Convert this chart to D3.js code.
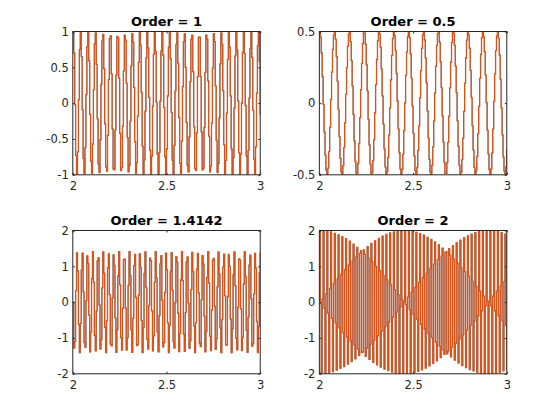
<!DOCTYPE html>
<html>
<head>
<meta charset="utf-8">
<script src="https://cdn.jsdelivr.net/npm/d3@7"></script>
<style>
body { margin: 0; background: #fff; }
text { font-family: "DejaVu Sans", sans-serif; }
.axis text { font-size: 11.5px; fill: #262626; }
.axis line { stroke: #262626; }
.title { font-size: 13px; font-weight: bold; fill: #000; }
</style>
</head>
<body>
<script>
// sample grid: t = 2 .. 3
var t0 = 2, dt = 0.005
var xTicks = [2, 2.5, 3]
var orders = ["1", "0.5", "1.4142", "2"]

var ord1 = [1.00, 0.70, -0.02, -0.73, -1.00, -0.68, 0.05, 0.75, 1.00, 0.65,
  -0.09, -0.77, -0.99, -0.62, 0.12, 0.79, 0.99, 0.59, -0.16, -0.81,
  -0.98, -0.57, 0.19, 0.83, 0.98, 0.54, -0.22, -0.85, -0.97, -0.51,
  0.26, 0.87, 0.96, 0.48, -0.29, -0.89, -0.95, -0.45, 0.33, 0.90,
  0.94, 0.41, -0.36, -0.92, -0.93, -0.38, 0.39, 0.93, 0.91, 0.35,
  -0.42, -0.94, -0.90, -0.32, 0.45, 0.95, 0.88, 0.28, -0.48, -0.96,
  -0.87, -0.25, 0.52, 0.97, 0.85, 0.22, -0.54, -0.98, -0.83, -0.18,
  0.57, 0.99, 0.81, 0.15, -0.60, -0.99, -0.79, -0.11, 0.63, 1.00,
  0.77, 0.08, -0.66, -1.00, -0.74, -0.04, 0.68, 1.00, 0.72, 0.01,
  -0.71, -1.00, -0.69, 0.03, 0.73, 1.00, 0.67, -0.06, -0.75, -1.00,
  -0.64, 0.10, 0.78, 0.99, 0.62, -0.13, -0.80, -0.99, -0.59, 0.17,
  0.82, 0.98, 0.56, -0.20, -0.84, -0.98, -0.53, 0.23, 0.86, 0.97,
  0.50, -0.27, -0.87, -0.96, -0.47, 0.30, 0.89, 0.95, 0.44, -0.33,
  -0.91, -0.94, -0.41, 0.37, 0.92, 0.92, 0.37, -0.40, -0.93, -0.91,
  -0.34, 0.43, 0.95, 0.89, 0.31, -0.46, -0.96, -0.88, -0.28, 0.49,
  0.97, 0.86, 0.24, -0.52, -0.97, -0.84, -0.21, 0.55, 0.98, 0.82,
  0.17, -0.58, -0.99, -0.80, -0.14, 0.61, 0.99, 0.78, 0.10, -0.64,
  -1.00, -0.76, -0.07, 0.66, 1.00, 0.74, 0.03, -0.69, -1.00, -0.71,
  0.00, 0.71, 1.00, 0.69, -0.03, -0.74, -1.00, -0.66, 0.07, 0.76,
  1.00, 0.64, -0.10, -0.78, -0.99, -0.61, 0.14, 0.80, 0.99, 0.58, -0.17]

var ord05 = [0.5, 0.461, 0.350, 0.185, -0.009, -0.201, -0.363, -0.468, -0.500, -0.454,
  -0.338, -0.169, 0.026, 0.217, 0.375, 0.473, 0.499, 0.447, 0.325, 0.152,
  -0.044, -0.233, -0.386, -0.479, -0.497, -0.438, -0.311, -0.136, 0.061, 0.248,
  0.397, 0.484, 0.495, 0.430, 0.297, 0.119, -0.078, -0.263, -0.407, -0.488,
  -0.492, -0.421, -0.283, -0.102, 0.095, 0.278, 0.417, 0.491, 0.489, 0.411,
  0.269, 0.085, -0.113, -0.292, -0.426, -0.494, -0.485, -0.401, -0.254, -0.067,
  0.129, 0.306, 0.435, 0.497, 0.481, 0.390, 0.239, 0.050, -0.146, -0.320,
  -0.444, -0.498, -0.476, -0.379, -0.223, -0.033, 0.163, 0.333, 0.451, 0.499,
  0.470, 0.367, 0.207, 0.015, -0.179, -0.346, -0.459, -0.500, -0.464, -0.355,
  -0.191, 0.002, 0.195, 0.358, 0.465, 0.500, 0.457, 0.343, 0.175, -0.020,
  -0.211, -0.370, -0.471, -0.499, -0.449, -0.330, -0.159, 0.037, 0.227, 0.382,
  0.477, 0.498, 0.441, 0.316, 0.142, -0.054, -0.242, -0.393, -0.482, -0.496,
  -0.433, -0.303, -0.125, 0.072, 0.258, 0.403, 0.486, 0.493, 0.424, 0.289,
  0.108, -0.089, -0.272, -0.413, -0.490, -0.490, -0.415, -0.274, -0.091, 0.106,
  0.287, 0.423, 0.493, 0.487, 0.405, 0.259, 0.074, -0.123, -0.301, -0.432,
  -0.496, -0.482, -0.394, -0.244, -0.057, 0.140, 0.315, 0.440, 0.498, 0.478,
  0.383, 0.229, 0.039, -0.157, -0.328, -0.448, -0.499, -0.472, -0.372, -0.213,
  -0.022, 0.173, 0.341, 0.456, 0.500, 0.466, 0.360, 0.197, 0.004, -0.189,
  -0.354, -0.463, -0.500, -0.459, -0.347, -0.181, 0.013, 0.205, 0.366, 0.469,
  0.500, 0.452, 0.335, 0.165, -0.031, -0.221, -0.377, -0.475, -0.498, -0.444, -0.321]

var ord14 = [0.00, -1.28, -1.10, 0.32, 1.38, 0.87, -0.63, -1.41, -0.59, 0.90,
  1.37, 0.28, -1.13, -1.26, 0.04, 1.29, 1.08, -0.36, -1.39, -0.84,
  0.66, 1.41, 0.56, -0.93, -1.36, -0.25, 1.15, 1.24, -0.08, -1.31,
  -1.05, 0.40, 1.40, 0.81, -0.70, -1.41, -0.52, 0.96, 1.35, 0.21,
  -1.17, -1.22, 0.12, 1.32, 1.02, -0.44, -1.40, -0.77, 0.73, 1.41,
  0.48, -0.99, -1.34, -0.17, 1.19, 1.20, -0.16, -1.34, -1.00, 0.47,
  1.41, 0.74, -0.77, -1.40, -0.45, 1.02, 1.33, 0.13, -1.21, -1.18,
  0.20, 1.35, 0.97, -0.51, -1.41, -0.71, 0.80, 1.40, 0.41, -1.04,
  -1.31, -0.09, 1.23, 1.16, -0.24, -1.36, -0.94, 0.55, 1.41, 0.67,
  -0.83, -1.39, -0.37, 1.07, 1.30, 0.05, -1.25, -1.13, 0.27, 1.37,
  0.91, -0.58, -1.41, -0.64, 0.86, 1.38, 0.33, -1.10, -1.28, -0.01,
  1.27, 1.11, -0.31, -1.38, -0.88, 0.62, 1.41, 0.60, -0.89, -1.37,
  -0.29, 1.12, 1.26, -0.03, -1.29, -1.08, 0.35, 1.39, 0.85, -0.66,
  -1.41, -0.57, 0.92, 1.36, 0.26, -1.14, -1.24, 0.07, 1.30, 1.06,
  -0.39, -1.39, -0.82, 0.69, 1.41, 0.53, -0.95, -1.35, -0.22, 1.17,
  1.22, -0.11, -1.32, -1.03, 0.43, 1.40, 0.78, -0.72, -1.41, -0.49,
  0.98, 1.34, 0.18, -1.19, -1.20, 0.15, 1.33, 1.00, -0.47, -1.41,
  -0.75, 0.76, 1.40, 0.46, -1.01, -1.33, -0.14, 1.21, 1.18, -0.19,
  -1.35, -0.98, 0.50, 1.41, 0.72, -0.79, -1.40, -0.42, 1.04, 1.31,
  0.10, -1.23, -1.16, 0.23, 1.36, 0.95, -0.54, -1.41, -0.68, 0.82, 1.39]

var ord2 = [2.00, -0.03, -2.00, 0.10, 2.00, -0.17, -1.99, 0.24, 1.98, -0.31,
  -1.97, 0.38, 1.96, -0.45, -1.94, 0.52, 1.92, -0.58, -1.90, 0.65,
  1.88, -0.72, -1.85, 0.78, 1.83, -0.85, -1.80, 0.91, 1.77, -0.97,
  -1.73, 1.03, 1.70, -1.09, -1.66, 1.15, 1.62, -1.20, -1.58, 1.26,
  1.53, -1.31, -1.49, 1.36, 1.44, -1.41, -1.39, 1.46, 1.34, -1.51,
  -1.29, 1.55, 1.23, -1.60, -1.18, 1.64, 1.12, -1.68, -1.06, 1.71,
  1.00, -1.75, -0.94, 1.78, 0.88, -1.81, -0.81, 1.84, 0.75, -1.87,
  -0.68, 1.89, 0.62, -1.91, -0.55, 1.93, 0.48, -1.95, -0.42, 1.96,
  0.35, -1.98, -0.28, 1.99, 0.21, -1.99, -0.14, 2.00, 0.07, -2.00,
  0.00, 2.00, -0.07, -2.00, 0.14, 1.99, -0.21, -1.99, 0.28, 1.98,
  -0.35, -1.96, 0.42, 1.95, -0.48, -1.93, 0.55, 1.91, -0.62, -1.89,
  0.68, 1.87, -0.75, -1.84, 0.81, 1.81, -0.88, -1.78, 0.94, 1.75,
  -1.00, -1.71, 1.06, 1.68, -1.12, -1.64, 1.18, 1.60, -1.23, -1.55,
  1.29, 1.51, -1.34, -1.46, 1.39, 1.41, -1.44, -1.36, 1.49, 1.31,
  -1.53, -1.26, 1.58, 1.20, -1.62, -1.15, 1.66, 1.09, -1.70, -1.03,
  1.73, 0.97, -1.77, -0.91, 1.80, 0.85, -1.83, -0.78, 1.85, 0.72,
  -1.88, -0.65, 1.90, 0.58, -1.92, -0.52, 1.94, 0.45, -1.96, -0.38,
  1.97, 0.31, -1.98, -0.24, 1.99, 0.17, -2.00, -0.10, 2.00, 0.03,
  -2.00, 0.03, 2.00, -0.10, -2.00, 0.17, 1.99, -0.24, -1.98, 0.31,
  1.97, -0.38, -1.96, 0.45, 1.94, -0.52, -1.92, 0.58, 1.90, -0.65, -1.88]

var yLims = [[-1, 1], [-0.5, 0.5], [-2, 2], [-2, 2]]
var yTicks = [[-1, -0.5, 0, 0.5, 1], [-0.5, 0, 0.5], [-2, -1, 0, 1, 2], [-2, -1, 0, 1, 2]]
var series = [ord1, ord05, ord14, ord2]

var W = 560, H = 420
// subplot(2,2,k) positions, normalized [left bottom]
var pos = [[0.13, 0.5838], [0.5703, 0.5838], [0.13, 0.11], [0.5703, 0.11]]
var aw = 0.3347 * W, ah = 0.3412 * H
var tl = 2

var svg = d3.select("body").append("svg").attr("width", W).attr("height", H)

series.forEach(function(vals, i) {
  var px = pos[i][0] * W, py = H - pos[i][1] * H - ah
  var g = svg.append("g").attr("transform", "translate(" + px + "," + py + ")")

  var x = d3.scaleLinear().domain([2, 3]).range([0, aw])
  var y = d3.scaleLinear().domain(yLims[i]).range([ah, 0])

  var pts = vals.map(function(v, k) { return [t0 + k * dt, v] })

  g.append("clipPath").attr("id", "clip" + i).append("rect").attr("width", aw).attr("height", ah)

  var plot = g.append("g").attr("clip-path", "url(#clip" + i + ")")
  var line = d3.line().x(function(d) { return x(d[0]) }).y(function(d) { return y(d[1]) })
    .curve(d3.curveStepAfter)
  // held signal (blue) with the stairs trace drawn over it
  plot.append("path").attr("d", line(pts)).attr("fill", "none")
    .attr("stroke", "#0072BD").attr("stroke-width", 0.8)
  plot.append("path").attr("d", line(pts)).attr("fill", "none")
    .attr("stroke", "#D95319").attr("stroke-width", 1.3)

  var fmt = function(d) { return String(d) }
  g.append("g").attr("class", "axis").attr("transform", "translate(0," + ah + ")")
    .call(d3.axisBottom(x).tickValues(xTicks).tickSize(-tl).tickPadding(7).tickFormat(fmt))
  g.append("g").attr("class", "axis")
    .call(d3.axisTop(x).tickValues(xTicks).tickSize(-tl).tickFormat(""))
  g.append("g").attr("class", "axis")
    .call(d3.axisLeft(y).tickValues(yTicks[i]).tickSize(-tl).tickPadding(4).tickFormat(fmt))
  g.append("g").attr("class", "axis").attr("transform", "translate(" + aw + ",0)")
    .call(d3.axisRight(y).tickValues(yTicks[i]).tickSize(-tl).tickFormat(""))
  g.selectAll(".axis .domain").remove()
  g.selectAll(".axis text").attr("font-family", null)

  g.append("rect").attr("width", aw).attr("height", ah)
    .attr("fill", "none").attr("stroke", "#262626").attr("stroke-width", 1)

  g.append("text").attr("class", "title").attr("x", aw / 2).attr("y", -5.5)
    .attr("text-anchor", "middle").text("Order = " + orders[i])
})
</script>
</body>
</html>
